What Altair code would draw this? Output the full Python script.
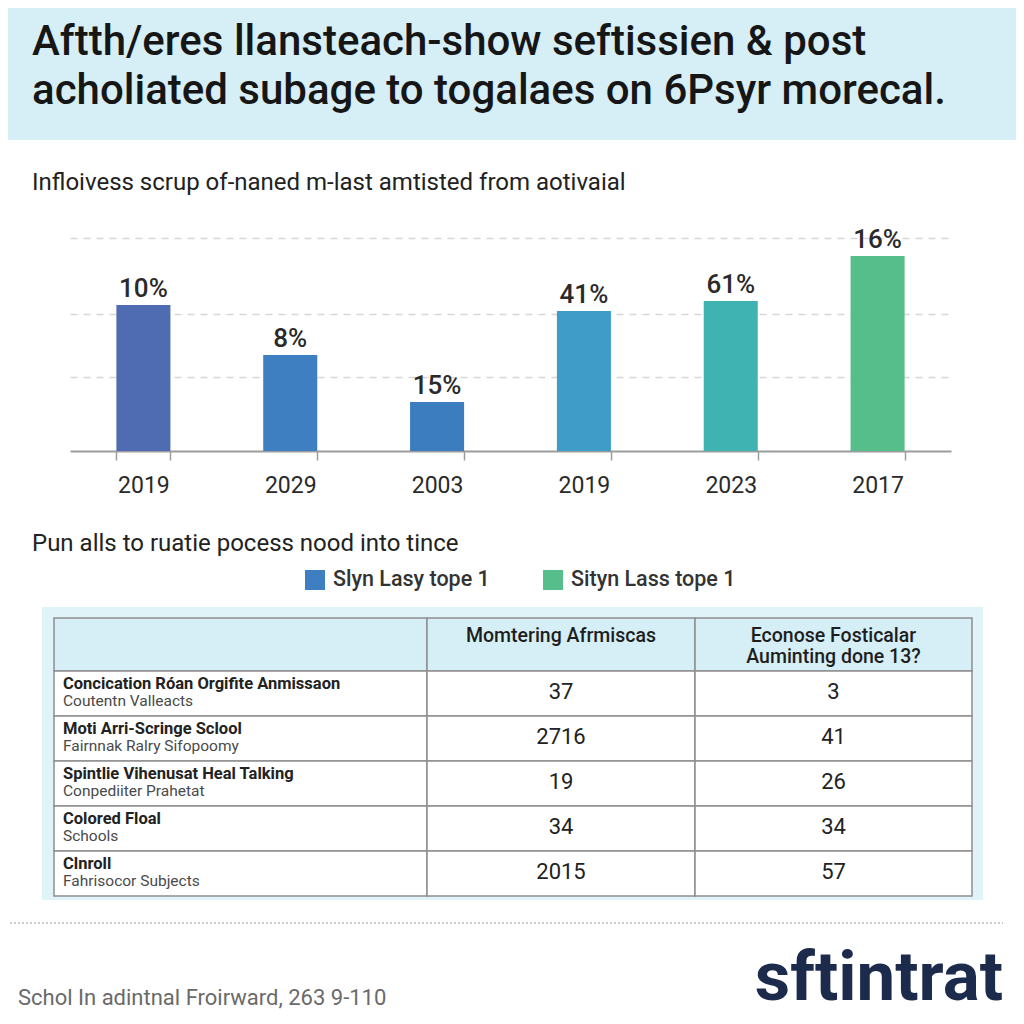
import altair as alt
import pandas as pd

# ---------------- data ----------------
TITLE_LINES = [
    "Aftth/eres llansteach-show seftissien & post",
    "acholiated subage to togalaes on 6Psyr morecal.",
]
SUBTITLE = "Infloivess scrup of-naned m-last amtisted from aotivaial"
YEARS = ["2019", "2029", "2003", "2019", "2023", "2017"]
BAR_HEIGHTS = [146, 96, 49, 140, 150, 195]
BAR_LABELS = ["10%", "8%", "15%", "41%", "61%", "16%"]
GRID_VALUES = [74, 137, 213]
SECTION2 = "Pun alls to ruatie pocess nood into tince"
LEGEND_NAMES = ["Slyn Lasy tope 1", "Sityn Lass tope 1"]
COL_HEADERS = ["", "Momtering Afrmiscas", "Econose Fosticalar\nAuminting done 13?"]
ROW_TITLES = [
    "Concication Róan Orgifite Anmissaon",
    "Moti Arri-Scringe Sclool",
    "Spintlie Vihenusat Heal Talking",
    "Colored Floal",
    "Clnroll",
]
ROW_SUBTITLES = [
    "Coutentn Valleacts",
    "Fairnnak Ralry Sifopoomy",
    "Conpediiter Prahetat",
    "Schools",
    "Fahrisocor Subjects",
]
COL2_VALUES = [37, 2716, 19, 34, 2015]
COL3_VALUES = [3, 41, 26, 34, 57]
FOOTER = "Schol In adintnal Froirward, 263 9-110"
LOGO = "sftintrat"

# ---------------- styles ----------------
FONT = "Roboto"
BAND = "#d6eff6"
BAR_COLORS = ["#4f6cb2", "#3d7fc0", "#3c7dbf", "#3f9cc8", "#3eb3b1", "#55be8a"]
LEGEND_COLORS = ["#3d7fc0", "#55be8a"]
W = H = 1008

one = alt.Data(values=[{}])

# header band + title
band = alt.Chart(one).mark_rect(color=BAND).encode(
    x=alt.value(0), x2=alt.value(W), y=alt.value(0), y2=alt.value(132)
)
title_df = pd.DataFrame({"t": TITLE_LINES, "i": list(range(len(TITLE_LINES)))})
title = alt.Chart(title_df).mark_text(
    align="left", baseline="alphabetic", font=FONT, fontSize=42, fontWeight=500, color="#161616"
).encode(
    x=alt.value(24),
    y=alt.Y("i:O", scale=alt.Scale(range=[47, 96], padding=0), axis=None),
    text="t:N",
)

subtitle = alt.Chart(one).mark_text(
    align="left", baseline="alphabetic", font=FONT, fontSize=24, color="#222222", text=SUBTITLE
).encode(x=alt.value(24), y=alt.value(182))

# bar chart
keys = []
for i, y in enumerate(YEARS):
    k = y
    while k in keys:
        k += "\u200b"
    keys.append(k)
bar_df = pd.DataFrame({"year": keys, "h": BAR_HEIGHTS, "lab": BAR_LABELS})
xscale = alt.Scale(domain=keys, range=[62, 943], paddingInner=0.632, paddingOuter=0.316)
yscale = alt.Scale(domain=[0, 213], range=[443, 230], nice=False, zero=True)
base = alt.Chart(bar_df).encode(
    x=alt.X(
        "year:N",
        sort=None,
        scale=xscale,
        axis=alt.Axis(
            title=None, orient="bottom", offset=-565, tickBand="extent",
            domainColor="#9c9c9c", domainWidth=2, tickColor="#9c9c9c", tickWidth=1.5,
            tickSize=9, labelFont=FONT, labelFontSize=23, labelColor="#2a2a2a",
            labelPadding=14, labelAngle=0, grid=False,
        ),
    ),
    y=alt.Y(
        "h:Q",
        scale=yscale,
        axis=alt.Axis(
            title=None, orient="left", values=GRID_VALUES, labels=False, ticks=False,
            domain=False, grid=True, gridDash=[7, 6], gridColor="#d6d6d6", gridWidth=1.5,
        ),
    ),
)
bars = base.mark_bar().encode(
    color=alt.Color("year:N", sort=None, scale=alt.Scale(domain=keys, range=BAR_COLORS), legend=None)
)
bar_text = base.mark_text(
    baseline="alphabetic", dy=-8, font=FONT, fontSize=26, fontWeight=500, color="#2a2a2a"
).encode(text="lab:N")
bar_layer = alt.layer(bars, bar_text)

section2 = alt.Chart(one).mark_text(
    align="left", baseline="alphabetic", font=FONT, fontSize=24, color="#222222", text=SECTION2
).encode(x=alt.value(24), y=alt.value(543))

# legend
leg_df = pd.DataFrame({"name": LEGEND_NAMES})
lx = alt.Scale(domain=LEGEND_NAMES, range=[307, 545], padding=0)
leg_sq = alt.Chart(leg_df).mark_square(size=400, opacity=1).encode(
    x=alt.X("name:N", sort=None, scale=lx, axis=None),
    y=alt.value(572),
    color=alt.Color("name:N", sort=None, scale=alt.Scale(domain=LEGEND_NAMES, range=LEGEND_COLORS), legend=None),
)
leg_tx = alt.Chart(leg_df).mark_text(
    align="left", baseline="middle", dx=18, font=FONT, fontSize=21.5, fontWeight=500, color="#333333"
).encode(x=alt.X("name:N", sort=None, scale=lx, axis=None), y=alt.value(572), text="name:N")
legend = alt.layer(leg_sq, leg_tx)

# table
panel = alt.Chart(one).mark_rect(color="#e0f3f8").encode(
    x=alt.value(34), x2=alt.value(975), y=alt.value(599), y2=alt.value(892)
)
n_rows = len(ROW_TITLES)
n_cols = len(COL_HEADERS)
cells = []
for r in range(n_rows + 1):
    for c in range(n_cols):
        cells.append({"c0": c, "c1": c + 1, "r0": r, "r1": r + 1, "kind": "head" if r == 0 else "body"})
cells_df = pd.DataFrame(cells)
xcols = alt.Scale(domain=[0, 1, 2, 3], range=[46, 419, 687, 964], zero=False, nice=False)
yrows = alt.Scale(domain=[0, 1, n_rows + 1], range=[610, 663, 888], zero=False, nice=False)
cell_rects = alt.Chart(cells_df).mark_rect(stroke="#8e8e8e", strokeWidth=1.5).encode(
    x=alt.X("c0:Q", scale=xcols, axis=None),
    x2="c1:Q",
    y=alt.Y("r0:Q", scale=yrows, axis=None),
    y2="r1:Q",
    color=alt.Color("kind:N", scale=alt.Scale(domain=["head", "body"], range=[BAND, "#ffffff"]), legend=None),
)
hdr_df = pd.DataFrame({"t": COL_HEADERS, "cx": [c + 0.5 for c in range(n_cols)], "r": 0})
hdr_text = alt.Chart(hdr_df).mark_text(
    align="center", baseline="alphabetic", dy=24, lineBreak="\n", lineHeight=21,
    font=FONT, fontSize=19.5, fontWeight=500, color="#1e1e1e",
).encode(x=alt.X("cx:Q", scale=xcols, axis=None), y=alt.Y("r:Q", scale=yrows, axis=None), text="t:N")
rows_df = pd.DataFrame({
    "title": ROW_TITLES,
    "sub": ROW_SUBTITLES,
    "v2": [str(v) for v in COL2_VALUES],
    "v3": [str(v) for v in COL3_VALUES],
    "r": list(range(1, n_rows + 1)),
    "c": 0,
    "c2": 1.5,
    "c3": 2.5,
})
row_base = alt.Chart(rows_df).encode(y=alt.Y("r:Q", scale=yrows, axis=None))
row_title = row_base.mark_text(
    align="left", baseline="alphabetic", dx=9, dy=17.5, font=FONT, fontSize=16.5, fontWeight="bold", color="#222222"
).encode(x=alt.X("c:Q", scale=xcols, axis=None), text="title:N")
row_sub = row_base.mark_text(
    align="left", baseline="alphabetic", dx=9, dy=34.5, font=FONT, fontSize=15.5, color="#4a4a4a"
).encode(x=alt.X("c:Q", scale=xcols, axis=None), text="sub:N")
v2_text = row_base.mark_text(
    align="center", baseline="alphabetic", dy=28, font=FONT, fontSize=22, color="#222222"
).encode(x=alt.X("c2:Q", scale=xcols, axis=None), text="v2:N")
v3_text = row_base.mark_text(
    align="center", baseline="alphabetic", dy=28, font=FONT, fontSize=22, color="#222222"
).encode(x=alt.X("c3:Q", scale=xcols, axis=None), text="v3:N")
table = alt.layer(cell_rects, hdr_text, row_title, row_sub, v2_text, v3_text)

# footer
footer_rule = alt.Chart(one).mark_rule(strokeDash=[2, 2], color="#bdbdbd", strokeWidth=1.5).encode(
    x=alt.value(2), x2=alt.value(995), y=alt.value(915)
)
footer_text = alt.Chart(one).mark_text(
    align="left", baseline="alphabetic", font=FONT, fontSize=22, color="#6a6a6a", text=FOOTER
).encode(x=alt.value(10), y=alt.value(997))
logo = alt.Chart(one).mark_text(
    align="right", baseline="alphabetic", font=FONT, fontSize=69, fontWeight="bold",
    color="#1c2a4b", text=LOGO,
).encode(x=alt.value(995), y=alt.value(992))

chart = alt.layer(
    band, title, subtitle, bar_layer, section2, legend, panel, table, footer_rule, footer_text, logo
).resolve_scale(
    x="independent", y="independent", color="independent"
).properties(
    width=W, height=H, padding=0
).configure_view(stroke=None)

chart.save("out.html", embed_options={"renderer": "svg", "actions": False})
